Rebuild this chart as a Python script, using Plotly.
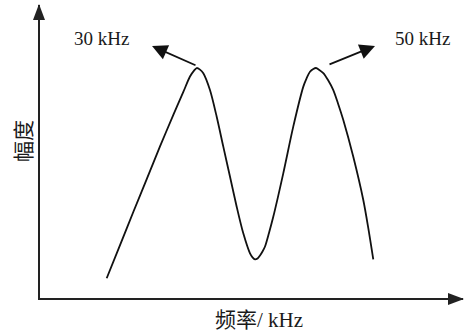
import plotly.graph_objects as go

# Frequency (kHz) and relative amplitude
freq_khz = [14.82, 17.06, 19.29, 21.55, 23.78, 26.02, 27.70, 28.82, 29.50, 29.95,
            30.50, 31.06, 32.18, 33.31, 34.42, 35.55, 36.67, 37.78, 38.91, 39.33,
            39.75, 40.17, 40.59, 41.01, 41.43, 42.10, 42.82, 44.50, 46.18, 47.87,
            48.40, 48.99, 49.55, 50.0, 50.50, 51.23, 52.02, 52.91, 53.70, 54.59,
            56.27, 57.95, 58.79, 59.63]
amplitude = [0.086, 0.230, 0.374, 0.517, 0.659, 0.796, 0.896, 0.963, 0.989, 1.0,
             0.993, 0.977, 0.904, 0.788, 0.658, 0.527, 0.397, 0.281, 0.194, 0.177,
             0.168, 0.172, 0.185, 0.202, 0.224, 0.283, 0.353, 0.542, 0.745, 0.919,
             0.954, 0.984, 0.996, 1.0, 0.993, 0.978, 0.948, 0.904, 0.846, 0.774,
             0.614, 0.426, 0.304, 0.168]

peak_labels = ["30 kHz", "50 kHz"]
label_freqs = [14.03, 67.98]
label_amp = 1.130
arrow_tail = [(30.0, 1.009), (52.02, 1.013)]
arrow_tip = [(22.44, 1.096), (59.92, 1.096)]

x_title = "频率/ kHz"
y_title = "幅度"

X_RANGE = [3.61, 74.71]
Y_RANGE = [0.0, 1.274]

SERIF = "Liberation Serif, Times New Roman, Noto Sans CJK SC, serif"
AXIS_COLOR = "#222222"
TEXT_COLOR = "#1a1a1a"

fig = go.Figure()
fig.add_trace(go.Scatter(
    x=freq_khz, y=amplitude, mode="lines",
    line=dict(color="#111111", width=1.8, shape="spline", smoothing=0.8),
    hoverinfo="skip", showlegend=False,
))

annotations = []
for lab, lx in zip(peak_labels, label_freqs):
    annotations.append(dict(x=lx, y=label_amp, xref="x", yref="y", text=lab,
                            showarrow=False, font=dict(family=SERIF, size=19, color=TEXT_COLOR),
                            xanchor="center", yanchor="middle"))
for (tx, ty), (hx, hy) in zip(arrow_tail, arrow_tip):
    annotations.append(dict(x=hx, y=hy, ax=tx, ay=ty, xref="x", yref="y",
                            axref="x", ayref="y", text="", showarrow=True,
                            arrowhead=2, arrowsize=1.7, arrowwidth=1.8,
                            arrowcolor="#111111"))
annotations.append(dict(x=0.518, y=-0.075, xref="paper", yref="paper", text=x_title,
                        showarrow=False, font=dict(family=SERIF, size=21, color=TEXT_COLOR),
                        xanchor="center", yanchor="middle"))
annotations.append(dict(x=-0.038, y=0.536, xref="paper", yref="paper", text=y_title,
                        showarrow=False, textangle=-90,
                        font=dict(family=SERIF, size=21, color=TEXT_COLOR),
                        xanchor="center", yanchor="middle"))

shapes = [
    # y-axis arrowhead
    dict(type="path", xref="paper", yref="paper", xsizemode="pixel", ysizemode="pixel",
         xanchor=0, yanchor=1,
         path="M-1,1 L-7,-15 L5,-15 Z", fillcolor=AXIS_COLOR, line=dict(width=0)),
    # x-axis arrowhead
    dict(type="path", xref="paper", yref="paper", xsizemode="pixel", ysizemode="pixel",
         xanchor=1, yanchor=0,
         path="M1,-1 L-15,5 L-15,-7 Z", fillcolor=AXIS_COLOR, line=dict(width=0)),
]

fig.update_layout(
    width=465, height=333,
    margin=dict(l=40, r=2, t=5, b=35),
    paper_bgcolor="white", plot_bgcolor="white",
    xaxis=dict(range=X_RANGE, showgrid=False, zeroline=False, showticklabels=False,
               ticks="", showline=True, linewidth=2.2, linecolor=AXIS_COLOR, mirror=False,
               fixedrange=True),
    yaxis=dict(range=Y_RANGE, showgrid=False, zeroline=False, showticklabels=False,
               ticks="", showline=True, linewidth=2.2, linecolor=AXIS_COLOR, mirror=False,
               fixedrange=True),
    annotations=annotations,
    shapes=shapes,
)

fig.write_html("out.html", config={"displayModeBar": False},
               post_script="document.body.style.margin='0';")
